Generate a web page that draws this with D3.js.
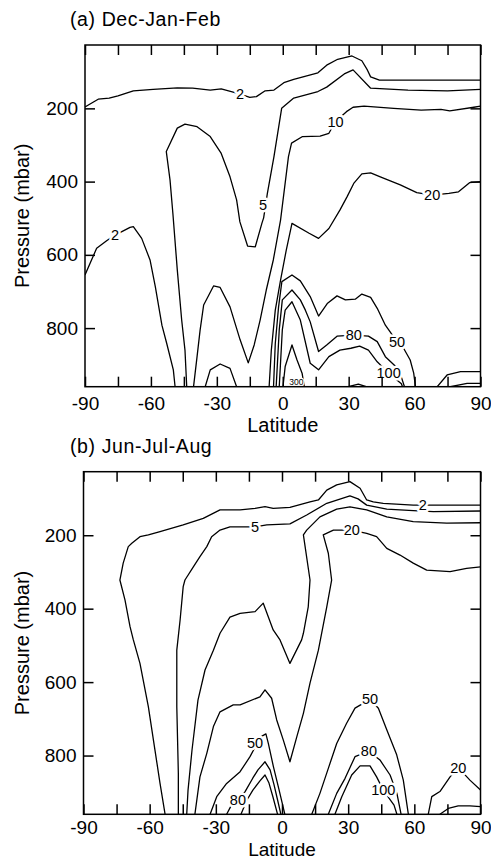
<!DOCTYPE html>
<html>
<head>
<meta charset="utf-8">
<script src="https://cdn.jsdelivr.net/npm/d3@7"></script>
<style>
  body { margin: 0; background: #fff; }
  svg { display: block; font-family: "Liberation Sans", Arial, Helvetica, sans-serif; }
  .contour { fill: none; stroke: #000; stroke-width: 1.3; stroke-linejoin: round; }
  .frame { fill: none; stroke: #000; stroke-width: 1.5; }
  .clabel { text-anchor: middle; dominant-baseline: central; paint-order: stroke; stroke: #fff; stroke-linejoin: round; fill: #000; }
</style>
</head>
<body>
<svg id="chart" width="491" height="860"></svg>
<script>
const width = 491, height = 860;

// axis values
const latTicks = [-90, -60, -30, 0, 30, 60, 90];
const latMinorTicks = [-75, -45, -15, 15, 45, 75];
const pressureTicks = [200, 400, 600, 800];
const pressureRange = [27, 960];

// (a) Dec-Jan-Feb contours, points are [latitude, pressure mbar]
const djf2Upper = [[-90,196],[-84,175],[-79,172],[-75,166],[-68,152],[-59,148],[-48,144],[-41,145],[-33,150],[-28,147],[-23,155],[-19,162],[-15,170],[-12,168],[-8,152],[-4,150],[0.5,130],[5,121],[16,103],[20,82],[25,66],[31.5,57],[36,70],[38.5,95],[40,114],[44,123],[57,123],[75,123],[90,123]];
const djf2Left = [[-90,655],[-84.7,582],[-80,561],[-76.3,546],[-69.5,525],[-68,523],[-64.2,555],[-60.4,614],[-58,687],[-55,792],[-52.8,842],[-49.8,914],[-49,960]];
const djf5 = [[90,148],[75,152],[57,150],[40,145],[32,95],[28,106],[20,142],[16,154],[5,172],[-0.5,200],[-4,332],[-7,432],[-8.7,499],[-9.5,514],[-12.5,578],[-16,576],[-19.5,510],[-21,450],[-24,387],[-28,323],[-33,277],[-39,250],[-44.5,243],[-48,254],[-53,318],[-51.3,396],[-50,487],[-48,641],[-46,778],[-44.5,860],[-43.7,960]];
const djf10 = [[90,194],[87,197],[76,207],[72,203],[63,205],[50.5,200],[37,194],[32,197],[29,209],[24,236],[21,268],[17,276],[9,277],[4,295],[2.6,332],[-1,505],[-4.3,614],[-7.5,696],[-10.3,778],[-13,846],[-15.7,895],[-19.4,832],[-24,742],[-28.5,689],[-31.5,685],[-36,737],[-37.6,805],[-39,878],[-40.6,960]];
const djf20 = [[90,400],[85,403],[80,428],[75.6,432],[68,437],[61,430],[53.5,409],[44.4,387],[40,376],[36,379],[32.3,405],[29.3,441],[26,478],[21,528],[16.3,555],[12,541],[4.2,514],[1.6,587],[-1,669],[-3.4,751],[-5.2,860],[-6.2,960]];
const djf20Dome = [[-35.3,960],[-33,914],[-28.5,898],[-24,910],[-21,960]];
const djf50 = [[-4.2,960],[-3.4,842],[-1.9,742],[-0.4,673],[4.2,655],[8,671],[12.5,714],[16.3,767],[20.4,732],[24.7,712],[28.5,723],[33,721],[36,707],[40,716],[43,746],[46.7,792],[52,837],[55,855],[58,887],[59.6,923],[60.4,960]];
const djf80 = [[-3,960],[-1.6,805],[-0.2,723],[4.2,696],[8,723],[10.3,751],[12.5,783],[16.3,864],[20,846],[24.7,822],[32.3,819],[39,822],[43,837],[46.7,878],[51.3,904],[54.1,936],[55.4,960]];
const djf100 = [[-1.6,960],[-0.2,805],[1.1,751],[4.2,728],[8,778],[12.5,896],[16.3,914],[21,878],[26,860],[31,855],[35,849],[39,860],[43,892],[48.2,923],[54,952],[54.5,960]];
const djf300 = [[0.1,960],[1.1,905],[4.2,846],[6.5,887],[8.8,923],[9.8,960]];
const djfBump = [[29.8,960],[34.4,953],[38,960]];
const djfPolar = [[70.3,960],[74.8,928],[80.9,919],[90,919]];
const djfPolarInner = [[76.3,960],[83.9,951],[90,951]];
const djfLabels = [['2',-19.4,162],['2',-76.3,546],['5',-9,464],['10',24,236],['20',68,437],['50',52,837],['80',32.3,819],['100',48.2,923],['300',6.2,946]];

// (b) Jun-Jul-Aug contours
const jja2 = [[-53,960],[-55.3,876],[-57.6,785],[-60.6,667],[-64.4,549],[-67.4,485],[-68.9,449],[-71.2,376],[-73.5,322],[-72,276],[-69.7,231],[-68.1,222],[-64.4,204],[-60.6,199],[-55.3,190],[-44.8,172],[-35.7,154],[-28.1,131],[-19,131],[-12.2,127],[-7.7,122],[-4,127],[3.6,124],[12.7,109],[16.5,104],[20.3,77],[24.8,63],[30.8,54],[35.4,72],[38.4,104],[41.4,109],[45.9,113],[59.5,118],[79.2,118],[90,118]];
const jja5 = [[90,134],[68.6,136],[59.5,133],[47.5,129],[38.4,118],[34.5,101],[30.8,93],[20.3,113],[11.2,145],[3.6,169],[-6.9,172],[-12.2,177],[-19,177],[-23.6,177],[-28.1,186],[-31.9,204],[-34.1,231],[-37.2,258],[-40.2,286],[-44,322],[-44.8,340],[-46.2,431],[-47.7,513],[-47.7,667],[-47,848],[-47,960]];
const jja10 = [[90,166],[74.7,167],[59.5,163],[47.5,150],[38.4,131],[30.8,123],[24.8,129],[17.2,150],[11.2,186],[9.7,199],[12.7,322],[11.9,395],[9.7,467],[8.9,485],[3.6,549],[-0.9,485],[-4,458],[-8.5,385],[-12.2,408],[-19,413],[-23.6,423],[-28.1,467],[-31.1,513],[-34.9,567],[-38.1,649],[-40.8,785],[-42.6,894],[-43.2,960]];
const jja20 = [[90,286],[83.7,290],[76.2,299],[65.6,295],[59.5,276],[53.5,254],[47.5,236],[42.9,204],[38.4,195],[31.6,186],[23.3,186],[18.7,199],[21,249],[22.5,322],[20.3,395],[16.5,513],[12.7,603],[9.7,685],[6.7,749],[3.6,817],[0.6,758],[-2.4,703],[-4.7,644],[-7.7,621],[-10,640],[-19,662],[-22.1,662],[-28.1,681],[-31.1,721],[-34.1,794],[-37.2,858],[-39.5,960]];
const jja50South = [[-32.6,960],[-29.6,912],[-25.1,876],[-19,844],[-14.5,803],[-12,775],[-9.1,747],[-7.3,741],[-6.2,767],[-3.9,830],[-1.3,894],[1.3,960]];
const jja80South = [[-25.1,960],[-23.1,937],[-20,921],[-16.8,899],[-13.2,861],[-10.9,839],[-7.7,817],[-5.4,839],[-3.6,880],[-2,921],[-0.5,960]];
const jja100South = [[-18.6,960],[-15.9,921],[-13.2,894],[-10,869],[-7.7,853],[-5.9,875],[-4.1,913],[-2,960]];
const jja50North = [[13.5,960],[17.2,903],[21,835],[24.8,767],[29.3,712],[33.1,671],[39.9,647],[43.7,671],[47.5,730],[52,798],[55,867],[57.3,960]];
const jja80North = [[21,960],[24.8,903],[28.6,862],[33.1,803],[39.4,788],[44.4,812],[49,853],[52.1,903],[54,960]];
const jja100North = [[24,960],[27.1,912],[31.6,853],[35.4,828],[39.9,828],[42.9,858],[45.9,894],[50.8,935],[52.1,960]];
const jja20Polar = [[66.3,960],[67.9,912],[71.6,898],[76.2,858],[79.9,833],[85.2,867],[90,894]];
const jjaPolarInner = [[71.6,960],[75.4,944],[79.9,937],[85.2,937],[90,939]];
const jjaLabels = [['2',63.8,118],['5',-12.2,177],['20',31.6,186],['50',-12.2,767],['80',-20,921],['50',39.9,647],['80',39.4,788],['100',45.9,894],['20',79.9,833]];

const panels = [
  { id: 'a', title: '(a) Dec-Jan-Feb',
    box: { left: 85, right: 480.5, top: 45, bottom: 386.7, tickPad: 10, xTitleY: 432, xTitleSize: 20 },
    lines: [djf2Upper, djf2Left, djf5, djf10, djf20, djf20Dome, djf50, djf80, djf100, djf300, djfBump, djfPolar, djfPolarInner],
    labels: djfLabels },
  { id: 'b', title: '(b) Jun-Jul-Aug',
    box: { left: 83.5, right: 480.5, top: 471.7, bottom: 814.3, tickPad: 6.5, xTitleY: 856, xTitleSize: 19 },
    lines: [jja2, jja5, jja10, jja20, jja50South, jja80South, jja100South, jja50North, jja80North, jja100North, jja20Polar, jjaPolarInner],
    labels: jjaLabels }
];

const svg = d3.select('#chart');
const allLatTicks = latTicks.concat(latMinorTicks).sort((a, b) => a - b);

panels.forEach(panel => {
  const box = panel.box;
  const x = d3.scaleLinear().domain([-90, 90]).range([box.left, box.right]);
  const y = d3.scaleLinear().domain(pressureRange).range([box.top, box.bottom]);
  const g = svg.append('g');

  // clip contours to the plot box
  const clipId = 'clip-' + panel.id;
  svg.append('clipPath').attr('id', clipId).append('rect')
    .attr('x', box.left).attr('y', box.top)
    .attr('width', box.right - box.left).attr('height', box.bottom - box.top);

  const line = d3.line().x(d => x(d[0])).y(d => y(d[1]));
  g.append('g').attr('clip-path', `url(#${clipId})`)
    .selectAll('path')
    .data(panel.lines)
    .join('path')
    .attr('class', 'contour')
    .attr('d', line);

  // contour labels with a white halo that breaks the line
  g.selectAll('text.clabel')
    .data(panel.labels)
    .join('text')
    .attr('class', 'clabel')
    .attr('x', d => x(d[1]))
    .attr('y', d => y(d[2]))
    .attr('font-size', d => d[0] === '300' ? 8.5 : 14.5)
    .attr('stroke-width', d => d[0] === '300' ? 2.5 : 5)
    .text(d => d[0]);

  // axes, ticks pointing inward
  const styleAxis = a => {
    a.select('.domain').remove();
    a.attr('font-family', null).attr('font-size', 19);
    a.selectAll('line').attr('stroke-width', 1.5);
  };
  g.append('g').attr('transform', `translate(0,${box.bottom})`)
    .call(d3.axisBottom(x).tickValues(allLatTicks).tickSize(-10).tickPadding(box.tickPad)
      .tickFormat(d => latTicks.includes(d) ? String(d) : ''))
    .call(styleAxis);
  g.append('g').attr('transform', `translate(0,${box.top})`)
    .call(d3.axisTop(x).tickValues(allLatTicks).tickSize(-10).tickFormat(() => ''))
    .call(styleAxis);
  g.append('g').attr('transform', `translate(${box.left},0)`)
    .call(d3.axisLeft(y).tickValues(pressureTicks).tickSize(-10).tickPadding(7)
      .tickFormat(d => String(d)))
    .call(styleAxis);
  g.append('g').attr('transform', `translate(${box.right},0)`)
    .call(d3.axisRight(y).tickValues(pressureTicks).tickSize(-10).tickFormat(() => ''))
    .call(styleAxis);

  g.append('rect').attr('class', 'frame')
    .attr('x', box.left).attr('y', box.top)
    .attr('width', box.right - box.left).attr('height', box.bottom - box.top);

  // titles
  g.append('text')
    .attr('x', 70).attr('y', box.top - 19)
    .attr('font-size', 19.5).attr('letter-spacing', 0.6)
    .text(panel.title);
  g.append('text')
    .attr('x', (box.left + box.right) / 2).attr('y', box.xTitleY)
    .attr('text-anchor', 'middle').attr('font-size', box.xTitleSize)
    .text('Latitude');
  g.append('text')
    .attr('transform', `translate(29,${(box.top + box.bottom) / 2}) rotate(-90)`)
    .attr('text-anchor', 'middle').attr('font-size', 20)
    .text('Pressure (mbar)');
});
</script>
</body>
</html>
